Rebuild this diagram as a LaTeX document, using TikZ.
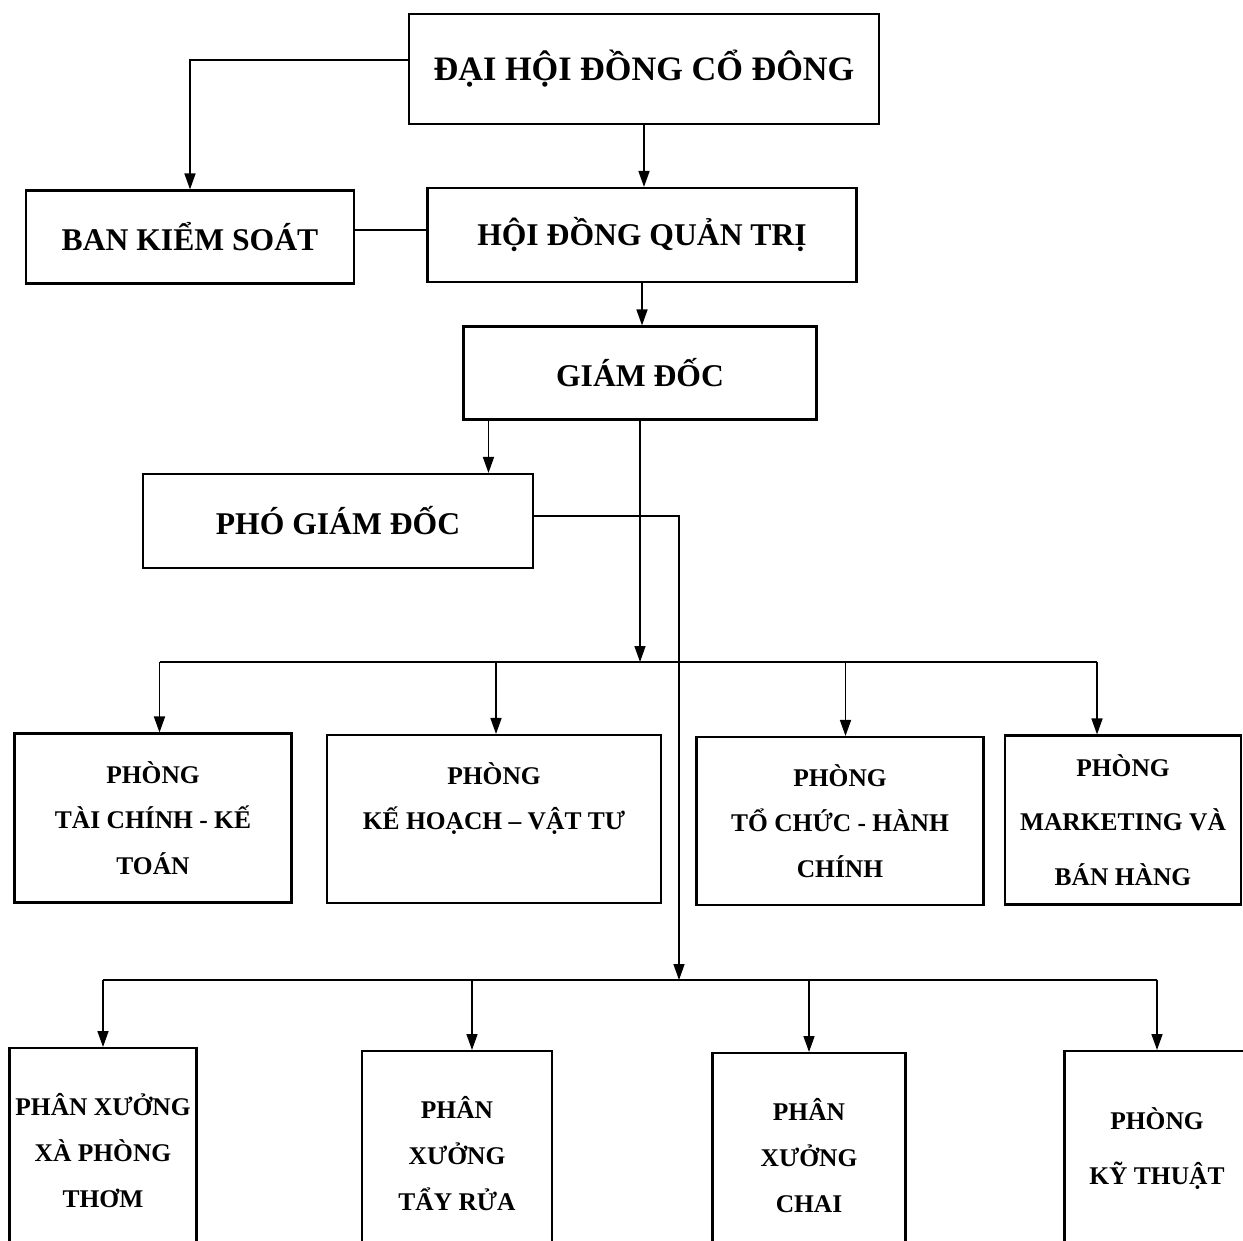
\documentclass[tikz,border=0pt]{standalone}
\usepackage{fontspec}
\setmainfont{Liberation Serif}
\usetikzlibrary{arrows.meta, positioning, calc}

\begin{document}
\begin{tikzpicture}[x=0.02cm, y=-0.02cm]
  \tikzstyle{box} = [rectangle, draw, line width=1.2pt, inner sep=0pt, text centered, align=center, font=\bfseries\fontsize{18}{22}\selectfont]
  \tikzstyle{unit} = [box, font=\bfseries\fontsize{14.5}{26}\selectfont]
  \tikzstyle{arrow} = [-{Triangle[length=0.32cm, width=0.22cm]}, line width=0.9pt]
  \tikzstyle{line} = [line width=0.9pt]

  \clip (0,0) rectangle (1243,1240);
  \fill[white] (0,0) rectangle (1243,1240);

  % top of the chart
  \node[box, minimum width=9.4cm, minimum height=2.2cm, font=\bfseries\fontsize{19.5}{22}\selectfont] (dhd) at (644,69) {ĐẠI HỘI ĐỒNG CỔ ĐÔNG};
  \node[box, minimum width=6.56cm, minimum height=1.86cm] (bks) at (190,237) {BAN KIỂM SOÁT};
  \node[box, minimum width=8.58cm, minimum height=1.88cm] (hdqt) at (642,235) {HỘI ĐỒNG QUẢN TRỊ};
  \node[box, minimum width=7.06cm, minimum height=1.86cm] (gd) at (640,373) {GIÁM ĐỐC};
  \node[box, minimum width=7.8cm, minimum height=1.88cm] (pgd) at (338,521) {PHÓ GIÁM ĐỐC};

  % departments
  \node[unit, minimum width=5.54cm, minimum height=3.38cm] (tckt) at (153,818) {PHÒNG\\TÀI CHÍNH - KẾ\\TOÁN};
  \node[unit, minimum width=6.68cm, minimum height=3.36cm] (khvt) at (494,819) {PHÒNG\\KẾ HOẠCH – VẬT TƯ\\\mbox{}};
  \node[unit, minimum width=5.74cm, minimum height=3.36cm] (tchc) at (840,821) {PHÒNG\\TỔ CHỨC - HÀNH\\CHÍNH};
  \node[unit, minimum width=4.72cm, minimum height=3.38cm, font=\bfseries\fontsize{14.5}{31}\selectfont] (mkt) at (1123,820) {PHÒNG\\MARKETING VÀ\\BÁN HÀNG};

  % workshops
  \node[unit, minimum width=3.74cm, minimum height=4.1cm, anchor=north] (pxxp) at (103,1047) {PHÂN XƯỞNG\\XÀ PHÒNG\\THƠM};
  \node[unit, minimum width=3.8cm, minimum height=4.1cm, anchor=north] (pxtr) at (457,1050) {PHÂN\\XƯỞNG\\TẨY RỬA};
  \node[unit, minimum width=3.86cm, minimum height=4.1cm, anchor=north] (pxc) at (809,1052) {PHÂN\\XƯỞNG\\CHAI};
  \node[unit, minimum width=3.7cm, minimum height=3.9cm, anchor=north, font=\bfseries\fontsize{14.5}{31}\selectfont] (pkt) at (1157,1050) {PHÒNG\\KỸ THUẬT};

  \coordinate (bus1) at (640,662);
  \coordinate (bus2) at (679,980);

  \draw[arrow] ([yshift=0.18cm]dhd.west) -| (bks.north);
  \draw[arrow] (dhd.south) -- (dhd.south |- hdqt.north);
  \draw[line] ([yshift=0.14cm]bks.east) -- ([yshift=0.14cm]bks.east -| hdqt.west);
  \draw[arrow] (hdqt.south) -- (hdqt.south |- gd.north);
  \draw[arrow] ([xshift=0.52cm]gd.south west) -- ([xshift=0.52cm]gd.south west |- pgd.north);
  \draw[arrow] (gd.south) -- (bus1);
  \draw[arrow] ([yshift=0.1cm]pgd.east) -| (bus2);

  \draw[line] ([xshift=0.13cm]tckt.north |- bus1) -- ([xshift=-0.52cm]mkt.north |- bus1);
  \foreach \b/\s in {tckt/0.13, khvt/0.04, tchc/0.11, mkt/-0.52}
    \draw[arrow] ([xshift=\s cm]\b.north |- bus1) -- ([xshift=\s cm]\b.north);

  \draw[line] (pxxp.north |- bus2) -- (pkt.north |- bus2);
  \foreach \b/\s in {pxxp/0, pxtr/0.3, pxc/0, pkt/0}
    \draw[arrow] ([xshift=\s cm]\b.north |- bus2) -- ([xshift=\s cm]\b.north);
\end{tikzpicture}
\end{document}
